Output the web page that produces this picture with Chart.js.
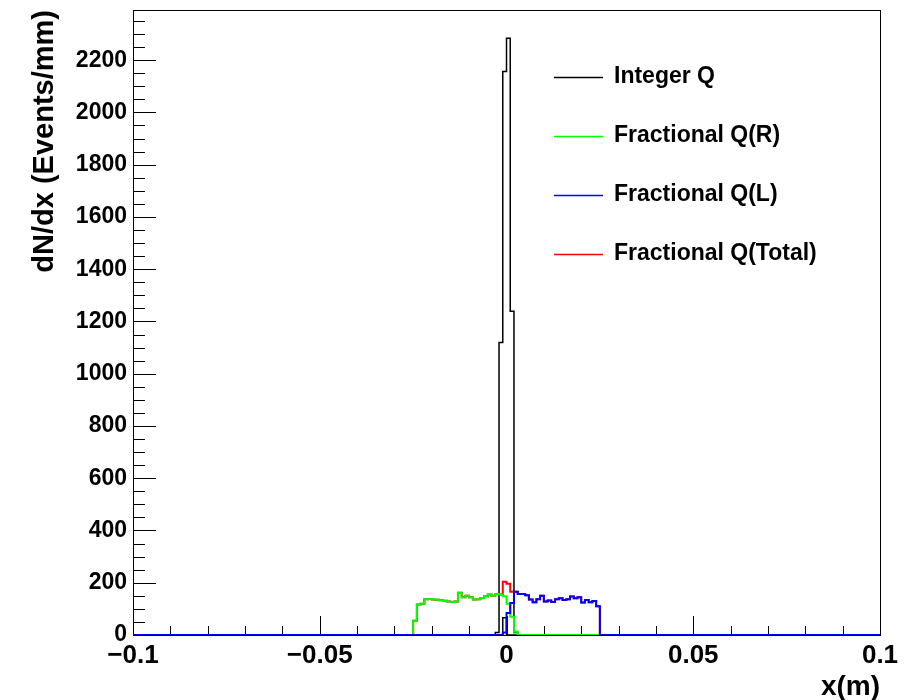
<!DOCTYPE html>
<html>
<head>
<meta charset="utf-8">
<script src="https://cdn.jsdelivr.net/npm/chart.js@4.4.1/dist/chart.umd.min.js"></script>
<style>
  body { margin: 0; background: #fff; }
</style>
</head>
<body>
<canvas id="myChart" width="921" height="700"></canvas>
<script>
// x range of the histograms (m), bin width 1 mm
const xMin = -0.1, xMax = 0.1, binWidth = 0.001
const yMax = 2392

const seriesLabels = ['Integer Q', 'Fractional Q(R)', 'Fractional Q(L)', 'Fractional Q(Total)']
const seriesColors = ['#000000', '#00ff00', '#0000ff', '#ff0000']

const xTitle = 'x(m)'
const yTitle = 'dN/dx (Events/mm)'

// labelled ticks
const xTicks = [-0.1, -0.05, 0, 0.05, 0.1]
const xTickLabels = ['\u22120.1', '\u22120.05', '0', '0.05', '0.1']
const yTicks = [0, 200, 400, 600, 800, 1000, 1200, 1400, 1600, 1800, 2000, 2200]

// each histogram: low edge of its first filled bin + bin contents
const integerStart = -0.003
const integerQ = [10, 1119, 2157, 2284, 1239, 10]

const innerStart = -0.001          // small black histogram under the spike (not in legend)
const innerQ = [66]

const fracRStart = -0.025
const fracR = [55, 117, 120, 137, 138, 136, 135, 133, 131, 128, 126, 128, 162, 144,
               150, 144, 136, 137, 142, 148, 155, 150, 157, 155, 148, 120, 70, 12]

const fracLStart = -0.001
const fracL = [10, 84, 122, 166, 157, 157, 152, 136, 125, 137, 150, 128, 132,
               126, 137, 141, 134, 137, 147, 141, 144, 124, 134, 125, 130, 110]

const fracTotalStart = -0.025
const fracTotal = [55, 117, 120, 137, 138, 136, 135, 133, 131, 128, 126, 128, 162, 144,
                   150, 144, 136, 137, 142, 148, 155, 150, 157, 155,
                   204, 196, 166,
                   166, 157, 157, 152, 136, 125, 137, 150, 128, 132, 126, 137, 141,
                   134, 137, 147, 141, 144, 124, 134, 125, 130, 110]

// turn bin contents into step points across the whole axis
function histPoints(start, vals) {
  const pts = [{x: xMin, y: 0}]
  vals.forEach((v, i) => pts.push({x: start + i * binWidth, y: v}))
  pts.push({x: start + vals.length * binWidth, y: 0})
  pts.push({x: xMax, y: 0})
  return pts
}

Chart.defaults.font.family = '"Liberation Sans", Arial, Helvetica, sans-serif'
Chart.defaults.color = '#000'

// frame + ROOT style inner ticks
const rootFrame = {
  id: 'rootFrame',
  beforeDatasetsDraw(chart) {
    const {ctx, chartArea: a, scales: {x, y}} = chart
    ctx.save()
    ctx.strokeStyle = '#000'
    ctx.lineWidth = 1
    ctx.beginPath()
    for (let v = 0; v <= yMax; v += 50) {
      const py = Math.round(y.getPixelForValue(v)) + 0.5
      const len = v % 200 === 0 ? 23 : 12
      ctx.moveTo(a.left, py)
      ctx.lineTo(a.left + len, py)
    }
    for (let i = 0; i <= 20; i++) {
      const px = Math.round(x.getPixelForValue(xMin + i * 0.01)) + 0.5
      const len = i % 5 === 0 ? 19 : 9
      ctx.moveTo(px, a.bottom)
      ctx.lineTo(px, a.bottom - len)
    }
    ctx.stroke()
    ctx.strokeRect(Math.round(a.left) + 0.5, Math.round(a.top) + 0.5,
                   Math.round(a.right - a.left), Math.round(a.bottom - a.top))
    ctx.restore()
  },
  afterDraw(chart) {
    // legend box inside the frame
    const ctx = chart.ctx
    const rows = [77, 136, 195, 254]
    ctx.save()
    ctx.font = 'bold 23px "Liberation Sans", Arial, sans-serif'
    ctx.textBaseline = 'middle'
    ctx.textAlign = 'left'
    seriesLabels.forEach((lab, i) => {
      ctx.strokeStyle = seriesColors[i]
      ctx.lineWidth = 1.5
      ctx.beginPath()
      ctx.moveTo(554, rows[i] + 0.5)
      ctx.lineTo(603, rows[i] + 0.5)
      ctx.stroke()
      ctx.fillStyle = '#000'
      ctx.fillText(lab, 614, rows[i])
    })
    ctx.restore()
  }
}

const noEdgePadding = s => {
  s.paddingTop = 0
  s.paddingBottom = 0
  s.paddingLeft = 0
  s.paddingRight = 0
}

const ctx = document.getElementById('myChart')

new Chart(ctx, {
  type: 'line',
  data: {
    datasets: [
      {label: seriesLabels[3], data: histPoints(fracTotalStart, fracTotal),
       borderColor: seriesColors[3], borderWidth: 2, order: 4},
      {label: seriesLabels[0], data: histPoints(integerStart, integerQ),
       borderColor: seriesColors[0], borderWidth: 1.5, order: 3},
      {label: '', data: histPoints(innerStart, innerQ),
       borderColor: seriesColors[0], borderWidth: 1.5, order: 3},
      {label: seriesLabels[1], data: histPoints(fracRStart, fracR),
       borderColor: seriesColors[1], borderWidth: 2, order: 2},
      {label: seriesLabels[2], data: histPoints(fracLStart, fracL),
       borderColor: seriesColors[2], borderWidth: 2, order: 1}
    ]
  },
  options: {
    responsive: false,
    animation: false,
    devicePixelRatio: 1,
    layout: {padding: {top: 10, right: 41, left: 0, bottom: 0}},
    elements: {
      line: {stepped: 'before', fill: false, tension: 0},
      point: {radius: 0}
    },
    plugins: {
      legend: {display: false},
      tooltip: {enabled: false}
    },
    scales: {
      x: {
        type: 'linear',
        min: xMin,
        max: xMax,
        grid: {display: false, drawTicks: false},
        border: {display: false},
        afterBuildTicks: s => { s.ticks = xTicks.map(v => ({value: v})) },
        ticks: {
          maxRotation: 0,
          autoSkip: false,
          padding: 5,
          font: {size: 26, weight: 'bold'},
          callback: (v, i) => xTickLabels[i]
        },
        title: {
          display: true,
          text: xTitle,
          align: 'end',
          font: {size: 28, weight: 'bold', lineHeight: 0.9},
          padding: {top: 0, bottom: 0}
        },
        afterFit: s => { s.height = 65; noEdgePadding(s) }
      },
      y: {
        min: 0,
        max: yMax,
        grid: {display: false, drawTicks: false},
        border: {display: false},
        afterBuildTicks: s => { s.ticks = yTicks.map(v => ({value: v})) },
        ticks: {
          autoSkip: false,
          padding: 6,
          font: {size: 23, weight: 'bold'},
          callback: v => String(v)
        },
        title: {
          display: true,
          text: yTitle,
          align: 'end',
          font: {size: 29, weight: 'bold', lineHeight: 1.2},
          padding: {top: 28, bottom: 0}
        },
        afterFit: s => { s.width = 133; noEdgePadding(s) }
      }
    }
  },
  plugins: [rootFrame]
})
</script>
</body>
</html>
